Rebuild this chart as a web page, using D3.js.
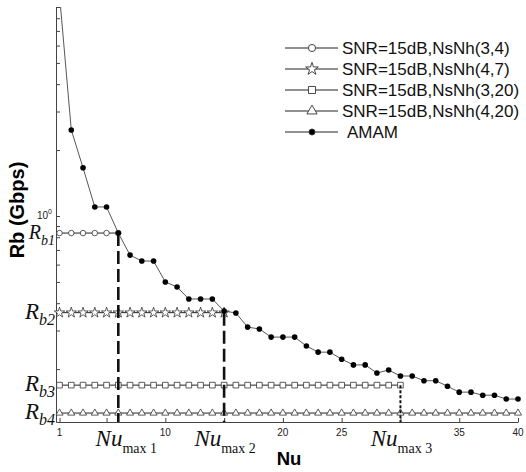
<!DOCTYPE html>
<html lang="en">
<head>
  <meta charset="UTF-8" />
  <title>Rb vs Nu</title>
  <script src="https://d3js.org/d3.v7.min.js"></script>
  <style>
    body {
      margin: 0;
      padding: 0;
      background: #fff;
    }
    .axis path, .axis line {
      stroke: #444;
      stroke-width: 1;
    }
    .tick-label {
      font-family: Arial, "Liberation Sans", sans-serif;
      font-size: 10px;
      fill: #222;
    }
    .serif {
      font-family: "Liberation Serif", "Times New Roman", serif;
      fill: #111;
    }
    .legend text {
      font-family: Arial, "Liberation Sans", sans-serif;
      font-size: 17px;
      fill: #111;
    }
  </style>
</head>
<body>
  <svg width="526" height="472"></svg>

  <script>
    // data
    const nu = d3.range(1, 41);
    const amam = [10.2, 2.47, 1.66, 1.10, 1.10, 0.836, 0.663, 0.623, 0.623, 0.50,
                  0.474, 0.418, 0.418, 0.418, 0.368, 0.361, 0.311, 0.305, 0.280, 0.280,
                  0.280, 0.255, 0.239, 0.239, 0.222, 0.209, 0.209, 0.192, 0.198, 0.186,
                  0.186, 0.177, 0.177, 0.167, 0.157, 0.157, 0.152, 0.152, 0.146, 0.146];
    const levelNames = ["SNR=15dB,NsNh(3,4)", "SNR=15dB,NsNh(4,7)", "SNR=15dB,NsNh(3,20)", "SNR=15dB,NsNh(4,20)"];
    const levelValues = [0.836, 0.362, 0.169, 0.126];
    const levelEnd = [6, 15, 30, 40];
    const levelLabels = ["b1", "b2", "b3", "b4"];
    const nuMaxLabels = ["max 1", "max 2", "max 3"];
    const xTickValues = [1, 5, 10, 15, 20, 25, 30, 35, 40];
    const xTickLabels = [1, 10, 20, 25, 35, 40];
    const yTickValues = [0.2, 0.3, 0.4, 0.5, 0.6, 0.7, 0.8, 0.9, 1, 2, 3, 4, 5, 6, 7, 8, 9];

    const svg = d3.select("svg");
    const pLeft = 56, pRight = 518, pTop = 7, pBottom = 422;

    const x = d3.scaleLinear().domain([0.7, 40]).range([pLeft, pRight]);
    const y = d3.scaleLog().domain([0.1147, 9.0]).range([pBottom, pTop]);

    svg.append("clipPath").attr("id", "plot")
      .append("rect").attr("x", pLeft).attr("y", pTop)
      .attr("width", pRight - pLeft + 6).attr("height", pBottom - pTop + 4);

    // axes
    svg.append("g").attr("class", "axis")
      .attr("transform", `translate(0,${pBottom})`)
      .call(d3.axisBottom(x).tickValues(xTickValues).tickSize(-4).tickSizeOuter(0).tickFormat(""));
    svg.append("g").attr("class", "axis")
      .attr("transform", `translate(${pLeft},0)`)
      .call(d3.axisLeft(y).tickValues(yTickValues).tickSize(-4).tickSizeOuter(0).tickFormat(""));

    svg.selectAll(".xlab")
      .data(xTickLabels)
      .enter()
      .append("text")
      .attr("class", "tick-label")
      .attr("x", (d) => x(d))
      .attr("y", pBottom + 14)
      .attr("text-anchor", "middle")
      .text((d) => d);

    const ten = svg.append("text").attr("class", "tick-label")
      .attr("x", pLeft - 4).attr("y", y(1) + 3).attr("text-anchor", "end");
    ten.append("tspan").text("10");
    ten.append("tspan").attr("dy", -5).attr("font-size", "7px").text("0");

    // axis titles
    svg.append("text")
      .attr("transform", `translate(24,${210}) rotate(-90)`)
      .attr("text-anchor", "middle")
      .attr("font-family", "Arial, 'Liberation Sans', sans-serif")
      .attr("font-weight", "bold")
      .attr("font-size", "20px")
      .text("Rb (Gbps)");
    svg.append("text")
      .attr("x", 289).attr("y", 465)
      .attr("text-anchor", "middle")
      .attr("font-family", "Arial, 'Liberation Sans', sans-serif")
      .attr("font-weight", "bold")
      .attr("font-size", "18.5px")
      .text("Nu");

    // constant-rate series
    const shapes = [d3.symbolCircle, d3.symbolStar, d3.symbolSquare, d3.symbolTriangle];
    const sizes = [24, 34, 32, 22];
    const rSize = [20, 23, 23, 23];
    const subSize = [14, 16, 16, 16];
    const line = d3.line().x((d) => x(d[0])).y((d) => y(d[1]));

    levelValues.forEach((v, i) => {
      const pts = nu.filter((n) => n <= levelEnd[i]).map((n) => [n, v]);
      svg.append("path")
        .attr("d", line(pts))
        .attr("fill", "none")
        .attr("stroke", "#222")
        .attr("stroke-width", 1);
      svg.selectAll(".m" + i)
        .data(pts)
        .enter()
        .append("path")
        .attr("transform", (d) => `translate(${x(d[0])},${y(d[1])})`)
        .attr("d", d3.symbol().type(shapes[i]).size(sizes[i]))
        .attr("fill", "white")
        .attr("stroke", "#333")
        .attr("stroke-width", 0.8);

      // R_b labels
      const t = svg.append("text").attr("class", "serif")
        .attr("x", pLeft - 1).attr("y", y(v) + 6)
        .attr("text-anchor", "end")
        .attr("font-style", "italic");
      t.append("tspan").attr("font-size", rSize[i] + "px").text("R");
      t.append("tspan").attr("font-size", subSize[i] + "px").attr("dy", 6).text(levelLabels[i]);
    });

    // vertical markers at Nu max
    const dashes = ["13,5", "13,5", "3,2"];
    const widths = [2.6, 2.6, 2];
    const labelShift = [8, 1, 1];
    levelEnd.slice(0, 3).forEach((n, i) => {
      svg.append("line")
        .attr("x1", x(n)).attr("x2", x(n))
        .attr("y1", y(levelValues[i])).attr("y2", pBottom)
        .attr("stroke", "#111")
        .attr("stroke-width", widths[i])
        .attr("stroke-dasharray", dashes[i]);
      const t = svg.append("text").attr("class", "serif")
        .attr("x", x(n) + labelShift[i]).attr("y", 446)
        .attr("text-anchor", "middle");
      t.append("tspan").attr("font-size", "23px").attr("font-style", "italic").text("Nu");
      t.append("tspan").attr("font-size", "14px").attr("dy", 7).text(nuMaxLabels[i]);
    });

    // AMAM
    const amamPts = nu.map((n, i) => [n, amam[i]]);
    const g = svg.append("g").attr("clip-path", "url(#plot)");
    g.append("path")
      .attr("d", line(amamPts))
      .attr("fill", "none")
      .attr("stroke", "#444")
      .attr("stroke-width", 0.9);
    g.selectAll(".dot")
      .data(amamPts)
      .enter()
      .append("circle")
      .attr("cx", (d) => x(d[0]))
      .attr("cy", (d) => y(d[1]))
      .attr("r", 2.8)
      .attr("fill", "#000");

    // legend
    const legend = svg.append("g").attr("class", "legend");
    const rowY = [48, 69, 90, 111, 132];
    const legShapes = [d3.symbolCircle, d3.symbolStar, d3.symbolSquare, d3.symbolTriangle, d3.symbolCircle];
    const legSizes = [40, 50, 50, 45, 28];
    const legNames = levelNames.concat(["AMAM"]);
    legNames.forEach((name, i) => {
      const ry = rowY[i];
      legend.append("line")
        .attr("x1", 285).attr("x2", 338)
        .attr("y1", ry).attr("y2", ry)
        .attr("stroke", "#222").attr("stroke-width", 1);
      legend.append("path")
        .attr("transform", `translate(312,${ry})`)
        .attr("d", d3.symbol().type(legShapes[i]).size(legSizes[i]))
        .attr("fill", i === 4 ? "#000" : "white")
        .attr("stroke", "#333")
        .attr("stroke-width", 0.9);
      legend.append("text")
        .attr("x", i === 4 ? 347 : 342)
        .attr("y", ry + 6)
        .text(name);
    });
  </script>
</body>
</html>
